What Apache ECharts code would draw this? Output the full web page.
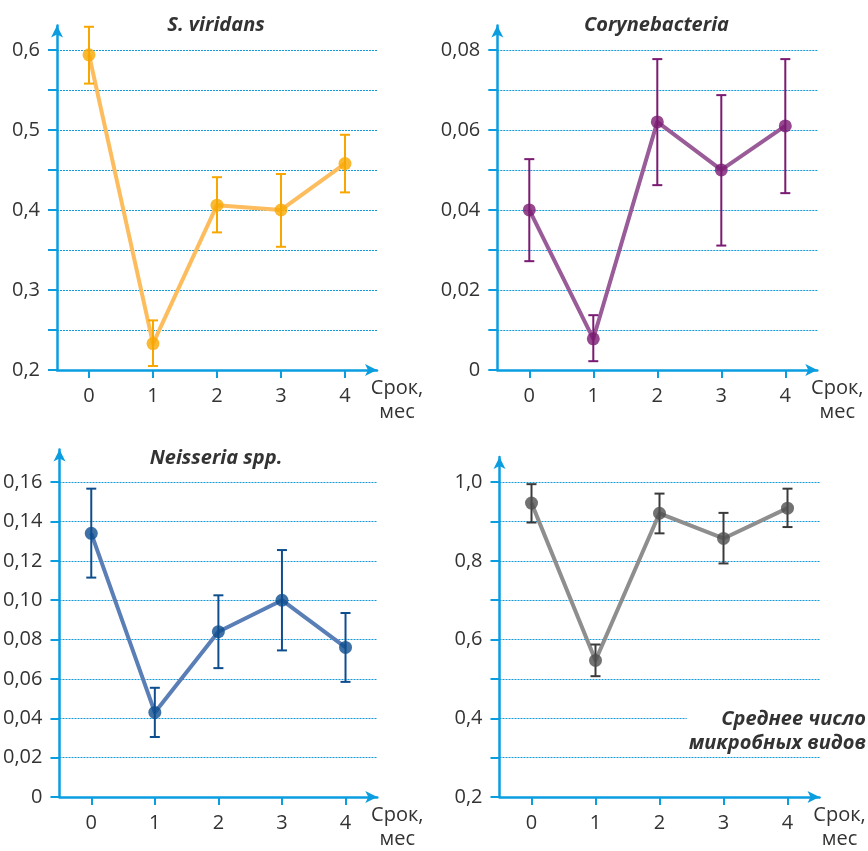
<!DOCTYPE html>
<html><head><meta charset="utf-8">
<script src="https://cdn.jsdelivr.net/npm/echarts@6/dist/echarts.min.js"></script>
<style>html,body{margin:0;padding:0;background:#fff}#c{width:868px;height:851px}</style>
</head><body><div id="c"></div>
<script>
// ---- data ----
const categories = ['0', '1', '2', '3', '4'];

const viridansMean = [0.594, 0.233, 0.406, 0.400, 0.458];
const viridansLow  = [0.558, 0.205, 0.372, 0.354, 0.422];
const viridansHigh = [0.629, 0.262, 0.441, 0.445, 0.494];

const coryneMean = [0.040, 0.0078, 0.062, 0.050, 0.061];
const coryneLow  = [0.0272, 0.0022, 0.0462, 0.0311, 0.0442];
const coryneHigh = [0.0527, 0.0137, 0.0777, 0.0687, 0.0777];

const neisseriaMean = [0.134, 0.043, 0.084, 0.100, 0.076];
const neisseriaLow  = [0.1115, 0.0305, 0.0655, 0.0745, 0.0585];
const neisseriaHigh = [0.1567, 0.0555, 0.1025, 0.1255, 0.0935];

const speciesMean = [0.947, 0.547, 0.921, 0.857, 0.934];
const speciesLow  = [0.8975, 0.507, 0.870, 0.7935, 0.886];
const speciesHigh = [0.995, 0.5875, 0.971, 0.922, 0.9835];

// tick values / labels
const viridansTicks = [0.2, 0.25, 0.3, 0.35, 0.4, 0.45, 0.5, 0.55, 0.6];
const viridansLabels = [0.2, 0.3, 0.4, 0.5, 0.6];
const coryneTicks = [0, 0.01, 0.02, 0.03, 0.04, 0.05, 0.06, 0.07, 0.08];
const coryneLabels = [0, 0.02, 0.04, 0.06, 0.08];
const neisseriaTicks = [0, 0.02, 0.04, 0.06, 0.08, 0.10, 0.12, 0.14, 0.16];
const neisseriaLabels = [0, 0.02, 0.04, 0.06, 0.08, 0.10, 0.12, 0.14, 0.16];
const speciesTicks = [0.2, 0.3, 0.4, 0.5, 0.6, 0.7, 0.8, 0.9, 1.0];
const speciesLabels = [0.2, 0.4, 0.6, 0.8, 1.0];

const titles = ['S. viridans', 'Corynebacteria', 'Neisseria spp.'];
const xName = 'Срок,\nмес';
const note = 'Среднее число\nмикробных видов';

// ---- styling ----
const AX = '#0a9de0';
const GRID = '#1598d8';
const TXT = '#333333';
const FONT = '"Open Sans", "Noto Sans", sans-serif';

const panels = [
  {grid: {left: 57, right: 491, top: 25.5, bottom: 481}, min: 0.2, max: 0.6306, interval: 0.05,
   ticks: viridansTicks, labels: viridansLabels, dec: 1,
   mean: viridansMean, low: viridansLow, high: viridansHigh,
   line: '#fdbd5e', mark: '#f8a700', err: '#f8a700'},
  {grid: {left: 497.3, right: 50.7, top: 25.5, bottom: 481}, min: 0, max: 0.0861, interval: 0.01,
   ticks: coryneTicks, labels: coryneLabels, dec: 2,
   mean: coryneMean, low: coryneLow, high: coryneHigh,
   line: '#9a5c98', mark: '#7a1a72', err: '#7a1a72'},
  {grid: {left: 57.3, right: 490.7, top: 449.5, bottom: 48.3}, min: 0, max: 0.1766, interval: 0.02,
   ticks: neisseriaTicks, labels: neisseriaLabels, dec: 2,
   mean: neisseriaMean, low: neisseriaLow, high: neisseriaHigh,
   line: '#5a7eb6', mark: '#0e4e8e', err: '#0e4e8e'},
  {grid: {left: 499.5, right: 48.5, top: 457, bottom: 48.3}, min: 0.2, max: 1.064, interval: 0.1,
   ticks: speciesTicks, labels: speciesLabels, dec: 1,
   mean: speciesMean, low: speciesLow, high: speciesHigh,
   line: '#8e8e8e', mark: '#4f4f4f', err: '#3a3a3a'}
];

function fmt(dec) {
  return function (v) {
    if (Math.abs(v) < 1e-9) return '0';
    return Number(v).toFixed(dec).replace('.', ',');
  };
}

function errRender(color) {
  return function (params, api) {
    const x = api.value(0);
    const lo = api.coord([x, api.value(1)]);
    const hi = api.coord([x, api.value(2)]);
    const hw = 5;
    const st = {stroke: color, lineWidth: 2};
    return {type: 'group', children: [
      {type: 'line', shape: {x1: lo[0], y1: lo[1], x2: hi[0], y2: hi[1]}, style: st},
      {type: 'line', shape: {x1: lo[0] - hw, y1: lo[1], x2: lo[0] + hw, y2: lo[1]}, style: st},
      {type: 'line', shape: {x1: hi[0] - hw, y1: hi[1], x2: hi[0] + hw, y2: hi[1]}, style: st}
    ]};
  };
}

const option = {
  backgroundColor: '#fff',
  animation: false,
  title: [
    {text: titles[0], left: 216, top: 15},
    {text: titles[1], left: 656.5, top: 15},
    {text: titles[2], left: 216, top: 448}
  ].map(t => Object.assign(t, {textAlign: 'center', padding: 0,
    textStyle: {fontFamily: FONT, fontSize: 20, fontWeight: 'bold', fontStyle: 'italic', color: TXT}})),
  grid: panels.map(p => p.grid),
  xAxis: panels.map((p, i) => ({
    type: 'category', gridIndex: i, data: categories, boundaryGap: true,
    name: xName, nameLocation: 'end', nameGap: 20,
    nameTextStyle: {fontFamily: FONT, fontSize: 20, color: TXT, align: 'center', verticalAlign: 'top',
      lineHeight: 24, padding: [6, 0, 0, 0]},
    axisLine: {show: true, symbol: ['none', 'arrow'], symbolSize: [9, 12], lineStyle: {color: AX, width: 2.5}},
    axisTick: {show: true, alignWithLabel: true, inside: false, length: 8, lineStyle: {color: AX, width: 2}},
    axisLabel: {fontFamily: FONT, fontSize: 20, color: TXT, margin: 16},
    splitLine: {show: false}
  })),
  yAxis: panels.map((p, i) => ({
    type: 'value', gridIndex: i, min: p.min, max: p.max, interval: p.interval,
    axisLine: {show: true, symbol: ['none', 'arrow'], symbolSize: [9, 12], lineStyle: {color: AX, width: 2.5}},
    axisTick: {show: true, inside: false, length: 9, customValues: p.ticks, lineStyle: {color: AX, width: 2}},
    axisLabel: {fontFamily: FONT, fontSize: 20, color: TXT, margin: 17, customValues: p.labels, formatter: fmt(p.dec)},
    splitLine: {show: true, showMinLine: false, showMaxLine: true, lineStyle: {color: GRID, width: 1.2, type: [2, 1]}}
  })),
  graphic: [{
    type: 'text', z: 100, x: 866, y: 707,
    style: {text: note, fontFamily: FONT, fontSize: 20, fontWeight: 'bold', fontStyle: 'italic',
      fill: TXT, align: 'right', verticalAlign: 'top', lineHeight: 24, backgroundColor: '#fff', padding: [0, 0, 0, 2]}
  }],
  series: []
};

panels.forEach((p, i) => {
  option.series.push({
    type: 'line', xAxisIndex: i, yAxisIndex: i, data: p.mean, symbol: 'none', z: 2,
    lineStyle: {color: p.line, width: 4, join: 'round'}
  });
  option.series.push({
    type: 'custom', xAxisIndex: i, yAxisIndex: i, z: 3,
    data: categories.map((c, k) => [k, p.low[k], p.high[k]]),
    encode: {x: 0, y: [1, 2]},
    renderItem: errRender(p.err)
  });
  option.series.push({
    type: 'scatter', xAxisIndex: i, yAxisIndex: i, z: 4, data: p.mean, symbol: 'circle', symbolSize: 13,
    itemStyle: {color: p.mark}
  });
});

const chart = echarts.init(document.getElementById('c'), null, {renderer: 'canvas'});
chart.setOption(option);
</script></body></html>
